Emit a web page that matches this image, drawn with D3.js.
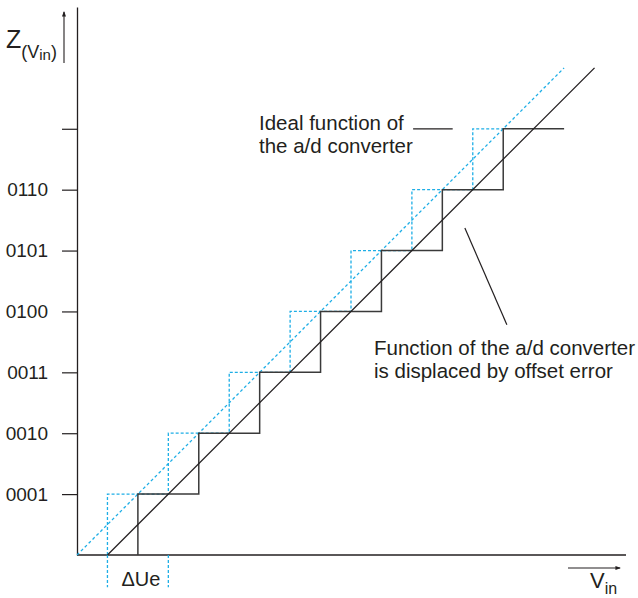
<!DOCTYPE html>
<html>
<head>
<meta charset="utf-8">
<script src="https://cdn.jsdelivr.net/npm/d3@7/dist/d3.min.js"></script>
<style>
  html, body { margin: 0; padding: 0; background: #fff; }
  svg { display: block; font-family: "Liberation Sans", Arial, sans-serif; }
</style>
</head>
<body>
<svg id="chart" width="638" height="598"></svg>
<script>
// ---- data ----
const codes = [1, 2, 3, 4, 5, 6, 7];
const codeLabels = ["0001", "0010", "0011", "0100", "0101", "0110", ""];
const idealTransitions = [0.5, 1.5, 2.5, 3.5, 4.5, 5.5, 6.5];
const actualTransitions = [1, 2, 3, 4, 5, 6, 7];
const idealLastEnd = 7;
const actualLastEnd = 8;
const idealLine = [[0, 0], [8, 8]];
const actualLine = [[0.5, 0], [8.5, 8]];
const deltaUeMarks = [0.5, 1.5];
const deltaUeBottom = -0.53;

const ink = "#231f20";
const blue = "#1eaee6";
const FONT = "'Liberation Sans', Arial, sans-serif";

const svg = d3.select("#chart");
const x = d3.scaleLinear().domain([0, 9]).range([77, 625]);
const y = d3.scaleLinear().domain([0, 9]).range([555, 7]);

// ---- axes ----
const yAxis = d3.axisLeft(y)
  .tickValues(codes)
  .tickFormat((d, i) => codeLabels[i])
  .tickSize(15)
  .tickSizeOuter(0)
  .tickPadding(14);
const gy = svg.append("g").attr("transform", `translate(${x(0)},0)`).call(yAxis);
gy.attr("font-family", null).attr("font-size", null);
gy.select(".domain").attr("stroke", ink).attr("stroke-width", 1.3);
gy.selectAll(".tick line").attr("stroke", ink).attr("stroke-width", 1.2);
gy.selectAll(".tick text").attr("fill", ink).style("font-size", "19px")
  .style("font-family", FONT);

const xAxis = d3.axisBottom(x).tickValues([]).tickSizeOuter(0);
const gx = svg.append("g").attr("transform", `translate(0,${y(0)})`).call(xAxis);
gx.select(".domain").attr("stroke", ink).attr("stroke-width", 1.3)
  .attr("d", `M${x(0)},0H${x(9) + 1}`);

const line = d3.line().x(d => x(d[0])).y(d => y(d[1]));

// ---- staircases ----
function stairs(trans, lastEnd) {
  const pts = [];
  trans.forEach((t, i) => {
    pts.push([t, i]);
    pts.push([t, i + 1]);
    const end = i + 1 < trans.length ? trans[i + 1] : lastEnd;
    pts.push([end, i + 1]);
  });
  return pts;
}

// ideal (blue dotted)
svg.append("path").attr("d", line(stairs(idealTransitions, idealLastEnd)))
  .attr("fill", "none").attr("stroke", blue).attr("stroke-width", 1.3)
  .attr("stroke-dasharray", "3,2");
deltaUeMarks.forEach(v => {
  svg.append("path").attr("d", line([[v, 0], [v, deltaUeBottom]]))
    .attr("fill", "none").attr("stroke", blue).attr("stroke-width", 1.3)
    .attr("stroke-dasharray", "3,2");
});
svg.append("path").attr("d", line(idealLine))
  .attr("fill", "none").attr("stroke", blue).attr("stroke-width", 1.3)
  .attr("stroke-dasharray", "3,2.5");

// actual (black)
svg.append("path").attr("d", line(stairs(actualTransitions, actualLastEnd)))
  .attr("fill", "none").attr("stroke", "#3a3a3a").attr("stroke-width", 1.5);
svg.append("path").attr("d", line(actualLine))
  .attr("fill", "none").attr("stroke", ink).attr("stroke-width", 1.3);

// ---- annotations ----
const txt = (px, py, s, size, anchor) => svg.append("text")
  .attr("x", px).attr("y", py).attr("fill", ink).style("font-family", FONT)
  .style("font-size", size + "px").attr("text-anchor", anchor || "start").text(s);

txt(259, 130, "Ideal function of", 20.5);
txt(259, 153, "the a/d converter", 20.5);
svg.append("line").attr("x1", x(5.52)).attr("x2", x(6.17)).attr("y1", y(7)).attr("y2", y(7))
  .attr("stroke", ink).attr("stroke-width", 1.2);

txt(374, 355, "Function of the a/d converter", 20.5);
txt(374, 378, "is displaced by offset error", 20.5);
svg.append("line").attr("x1", x(6.37)).attr("y1", y(5.37)).attr("x2", x(7.06)).attr("y2", y(3.78))
  .attr("stroke", ink).attr("stroke-width", 1.2);

txt(x(1.05), 586, "ΔUe", 20, "middle");

// Z(Vin) label
const zt = svg.append("text").attr("x", 6).attr("y", 48).attr("fill", ink).style("font-family", FONT);
zt.append("tspan").style("font-size", "25px").text("Z");
zt.append("tspan").attr("dy", 10).style("font-size", "18px").text("(V");
zt.append("tspan").attr("dy", 2).style("font-size", "15px").text("in");
zt.append("tspan").attr("dy", -2).style("font-size", "18px").text(")");

// arrows
svg.append("defs").append("marker").attr("id", "ah").attr("viewBox", "0 0 6 6")
  .attr("refX", 5).attr("refY", 3).attr("markerWidth", 5).attr("markerHeight", 5)
  .attr("orient", "auto").append("path").attr("d", "M0,0.8L6,3L0,5.2Z").attr("fill", ink);
svg.append("line").attr("x1", 64).attr("y1", 63).attr("x2", 64).attr("y2", 12)
  .attr("stroke", ink).attr("stroke-width", 1.1).attr("marker-end", "url(#ah)");
svg.append("line").attr("x1", 568).attr("y1", 568).attr("x2", 620).attr("y2", 568)
  .attr("stroke", ink).attr("stroke-width", 1.1).attr("marker-end", "url(#ah)");

const vt = svg.append("text").attr("x", 590).attr("y", 588).attr("fill", ink).style("font-family", FONT);
vt.append("tspan").style("font-size", "22px").text("V");
vt.append("tspan").attr("dy", 6).style("font-size", "16px").text("in");
</script>
</body>
</html>
